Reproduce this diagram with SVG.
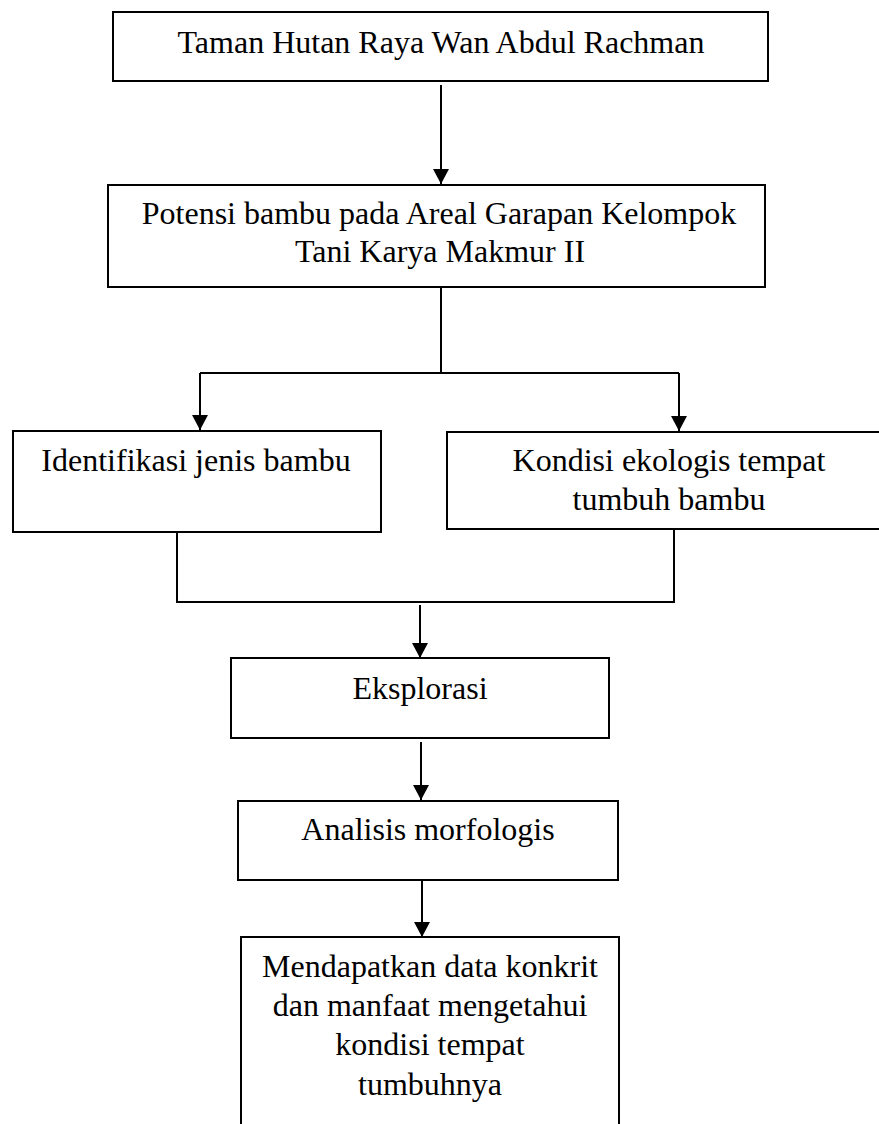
<svg xmlns="http://www.w3.org/2000/svg" width="879" height="1124" viewBox="0 0 879 1124">
<style>
.box{fill:#fff;stroke:#000;stroke-width:2}
.t{font-family:"Liberation Serif","Times New Roman",serif;font-size:32px;fill:#000;text-anchor:middle}
.c{fill:none;stroke:#000;stroke-width:2}
</style>
<defs>
<marker id="ah" viewBox="0 0 15 16" markerWidth="15" markerHeight="16" markerUnits="userSpaceOnUse" refX="15" refY="8" orient="auto">
<path d="M0,0 L15,8 L0,16 z" fill="#000"/>
</marker>
</defs>
<rect width="879" height="1124" fill="#fff"/>
<g id="n1"><rect class="box" x="113" y="12" width="655" height="69"/><text class="t" x="441" y="53">Taman Hutan Raya Wan Abdul Rachman</text></g>
<g id="n2"><rect class="box" x="108" y="185" width="657" height="102"/><text class="t" x="439" y="224">Potensi bambu pada Areal Garapan Kelompok</text><text class="t" x="440" y="262">Tani Karya Makmur II</text></g>
<g id="n3"><rect class="box" x="13" y="431" width="368" height="101"/><text class="t" x="196" y="471">Identifikasi jenis bambu</text></g>
<g id="n4"><rect class="box" x="447" y="432" width="450" height="97"/><text class="t" x="669" y="471">Kondisi ekologis tempat</text><text class="t" x="669" y="510">tumbuh bambu</text></g>
<g id="n5"><rect class="box" x="231" y="658" width="378" height="80"/><text class="t" x="420" y="699">Eksplorasi</text></g>
<g id="n6"><rect class="box" x="238" y="801" width="380" height="79"/><text class="t" x="428" y="840">Analisis morfologis</text></g>
<g id="n7"><rect class="box" x="241" y="937" width="378" height="200"/><text class="t" x="430" y="977">Mendapatkan data konkrit</text><text class="t" x="430" y="1016">dan manfaat mengetahui</text><text class="t" x="430" y="1055">kondisi tempat</text><text class="t" x="430" y="1095">tumbuhnya</text></g>
<g id="connectors">
<path class="c" d="M441,85 V184" marker-end="url(#ah)"/>
<path class="c" d="M441,288 V373"/>
<path class="c" d="M200,373 H679"/>
<path class="c" d="M200,373 V430" marker-end="url(#ah)"/>
<path class="c" d="M679,373 V431" marker-end="url(#ah)"/>
<path class="c" d="M177,532 V602 H674 V529"/>
<path class="c" d="M420,605 V658" marker-end="url(#ah)"/>
<path class="c" d="M421,742 V800" marker-end="url(#ah)"/>
<path class="c" d="M422,881 V937" marker-end="url(#ah)"/>
</g>
</svg>
